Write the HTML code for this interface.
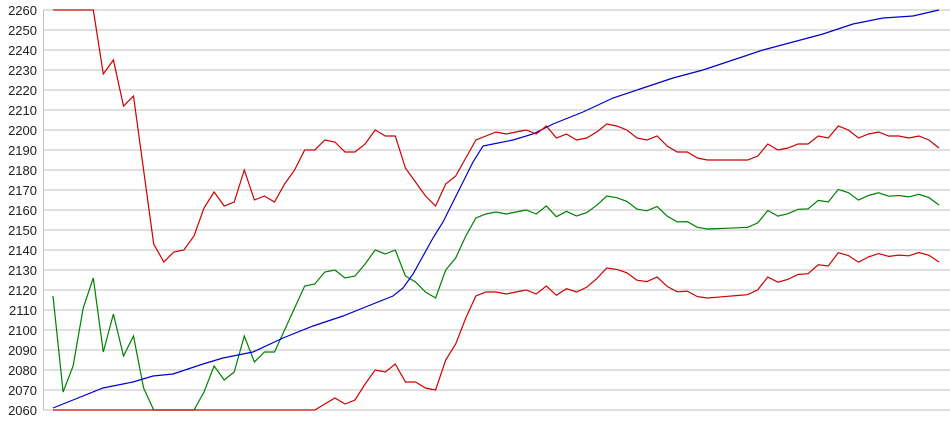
<!DOCTYPE html>
<html><head><meta charset="utf-8"><style>
html,body{margin:0;padding:0;background:#fff;width:950px;height:435px;overflow:hidden}
svg text{font-family:"Liberation Sans",Arial,sans-serif;font-size:13px;fill:#222}
</style></head><body>
<svg id="c" width="950" height="435" xmlns="http://www.w3.org/2000/svg"></svg>
<script>
var s=document.getElementById('c'),h='';
function Y(v){return 410-(v-2060)*2;}
for(var v=2060;v<=2260;v+=10){var y=Y(v);h+='<line x1="43" x2="950" y1="'+y+'" y2="'+y+'" stroke="#c0c0c0" stroke-width="1"/>';h+='<text x="37" y="'+(y+5)+'" text-anchor="end">'+v+'</text>';}
h+='<line x1="43.5" x2="43.5" y1="10" y2="410" stroke="#c0c0c0"/>';
var up=[2260,2260,2260,2260,2260,2228,2235,2212,2217,2180,2143,2134,2139,2140,2147,2161,2169,2162,2164,2180,2165,2167,2164,2173,2180,2190,2190,2195,2194,2189,2189,2193,2200,2197,2197,2181,2174,2167,2162,2173,2177,2186,2195,2197,2199,2198,2199,2200,2198,2202,2196,2198,2195,2196,2199,2203,2202,2200,2196,2195,2197,2192,2189,2189,2186,2185,2185,2185,2185,2185,2187,2193,2190,2191,2193,2193,2197,2196,2202,2200,2196,2198,2199,2197,2197,2196,2197,2195,2191];
var gr=[2117,2069,2082,2111,2126,2089,2108,2087,2097,2071,2060,2060,2060,2060,2060,2069,2082,2075,2079,2097,2084,2089,2089,2100,2111,2122,2123,2129,2130,2126,2127,2133,2140,2138,2140,2127,2124,2119,2116,2130,2136,2147,2156,2158];
var lo=[];for(var i=0;i<27;i++)lo.push(2060);
lo=lo.concat([2063,2066,2063,2065,2073,2080,2079,2083,2074,2074,2071,2070,2085,2093,2106,2117,2119]);
var dk=[[43,80],[49,80],[55,72],[65,69],[77,64],[88,57]];
function D(i){for(var k=0;k<dk.length-1;k++){if(i<=dk[k+1][0]){var a=dk[k],b=dk[k+1];return a[1]+(b[1]-a[1])*(i-a[0])/(b[0]-a[0]);}}return 57;}
for(var i=44;i<=88;i++){var d=D(i);gr.push(up[i]-d/2);lo.push(up[i]-d);}
function X(i){return 53+i*886/88;}
function pl(arr,c){var p=arr.map(function(v,i){return X(i).toFixed(1)+','+Y(v).toFixed(1)}).join(' ');return '<polyline fill="none" stroke="'+c+'" stroke-width="1.2" points="'+p+'"/>';}
var bl=[[53,2061],[73,2065],[103,2071],[133,2074],[153,2077],[173,2078],[203,2083],[223,2086],[253,2089],[283,2096],[313,2102],[343,2107],[363,2111],[383,2115],[393,2117],[403,2121],[413,2128],[423,2137],[433,2146],[443,2154],[453,2164],[463,2174],[473,2184],[483,2192],[493,2193],[513,2195],[533,2198],[553,2203],[583,2209],[613,2216],[643,2221],[673,2226],[703,2230],[733,2235],[763,2240],[793,2244],[823,2248],[853,2253],[883,2256],[913,2257],[939,2260]];
h+=pl(gr,'#008000');h+=pl(lo,'#d00000');
h+='<polyline fill="none" stroke="#0000cc" stroke-width="1.2" points="'+bl.map(function(p){return p[0]+','+Y(p[1])}).join(' ')+'"/>';
h+=pl(up,'#cc0000');
s.innerHTML=h;
</script>
</body></html>
